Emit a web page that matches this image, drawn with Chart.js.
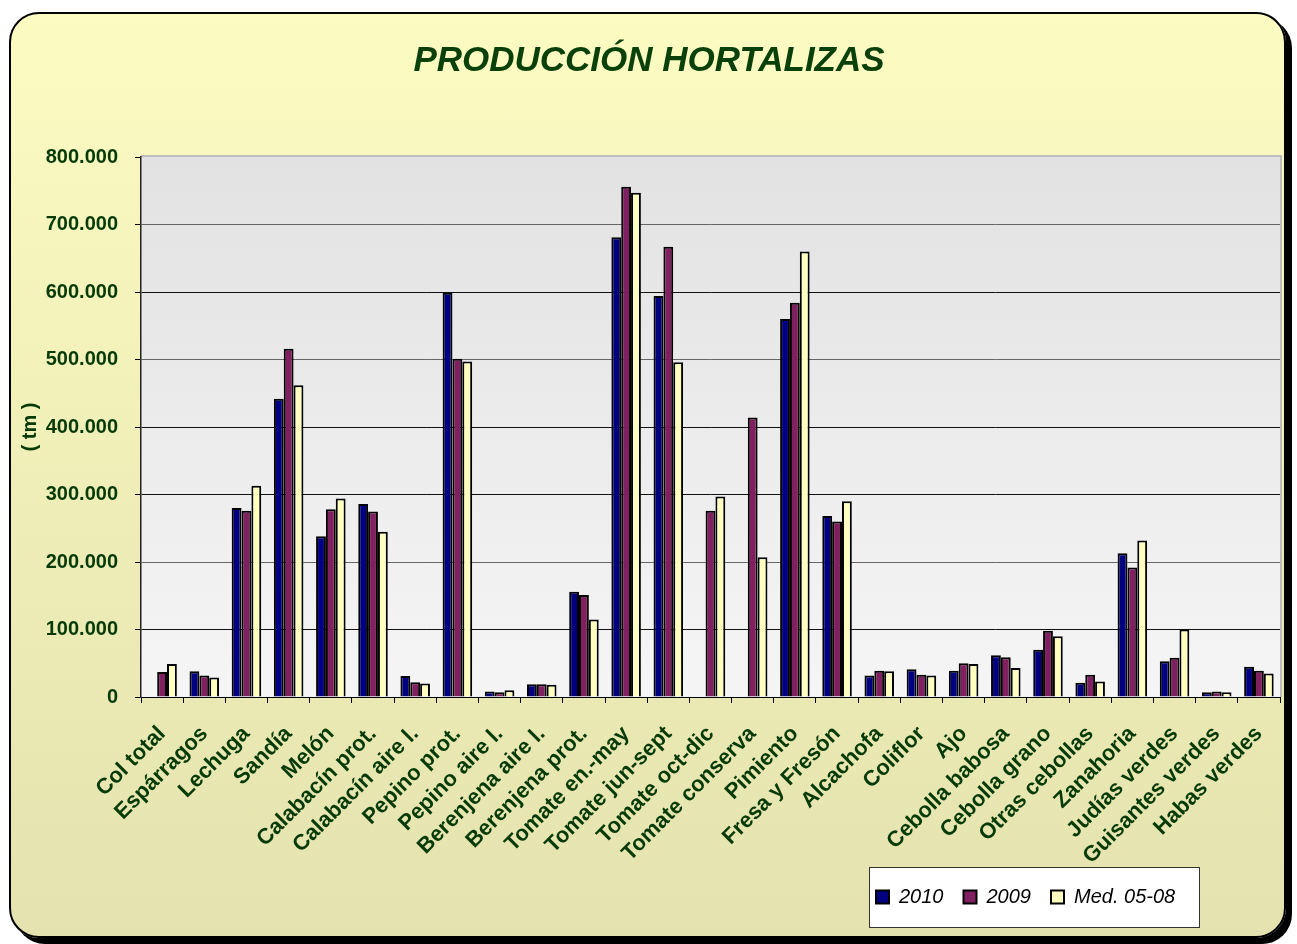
<!DOCTYPE html>
<html><head><meta charset="utf-8">
<script src="https://cdn.jsdelivr.net/npm/chart.js@4.4.1/dist/chart.umd.min.js"></script>
<style>
html,body{margin:0;padding:0;background:#fff;}
#wrap{position:relative;width:1297px;height:944px;overflow:hidden;}
#panel{position:absolute;left:9px;top:12px;width:1273px;height:922px;border:2px solid #000;border-radius:30px;box-shadow:6px 6px 0 #000;background:linear-gradient(#FBFBC2,#E4E2AE);}
#c{position:absolute;left:0;top:0;}
</style></head><body>
<div id="wrap"><div id="panel"></div><canvas id="c" width="1297" height="944"></canvas></div>
<script>
const categories = ['Col total','Espárragos','Lechuga','Sandía','Melón','Calabacín prot.','Calabacín aire l.','Pepino prot.','Pepino aire l.','Berenjena aire l.','Berenjena prot.','Tomate en.-may','Tomate jun-sept','Tomate oct-dic','Tomate conserva','Pimiento','Fresa y Fresón','Alcachofa','Coliflor','Ajo','Cebolla babosa','Cebolla grano','Otras cebollas','Zanahoria','Judías verdes','Guisantes verdes','Habas verdes'];
const values2010 = [null, 38000, 280000, 442000, 238000, 286000, 31000, 599000, 8000, 19000, 156000, 681000, 594000, null, null, 560000, 268000, 32000, 41000, 39000, 62000, 70000, 21000, 213000, 53000, 7000, 45000];
const values2009 = [37000, 32000, 276000, 516000, 278000, 275000, 22000, 501000, 7000, 19000, 151000, 756000, 667000, 276000, 414000, 584000, 260000, 39000, 33000, 50000, 59000, 98000, 33000, 192000, 58000, 8000, 39000];
const valuesMed = [49000, 29000, 313000, 462000, 294000, 245000, 20000, 497000, 10000, 18000, 115000, 747000, 496000, 297000, 207000, 660000, 290000, 38000, 32000, 49000, 43000, 90000, 23000, 232000, 100000, 7000, 35000];
const seriesNames = ['2010', '2009', 'Med. 05-08'];
const yTickValues = [0, 100000, 200000, 300000, 400000, 500000, 600000, 700000, 800000];
const chartTitle = 'PRODUCCIÓN HORTALIZAS';
const yAxisTitle = '( tm )';

const FONT = "'Liberation Sans', Arial, sans-serif";
const GREEN = '#063a06';
Chart.defaults.font.family = FONT;

function fmt(v) {
  return v === 0 ? '0' : String(v).replace(/\B(?=(\d{3})+(?!\d))/g, '.');
}

const plotBg = {
  id: 'plotBg',
  beforeDraw(chart) {
    const {ctx, chartArea: a} = chart;
    ctx.save();
    const g = ctx.createLinearGradient(0, a.top, 0, a.bottom);
    g.addColorStop(0, '#E2E2E2');
    g.addColorStop(1, '#F5F5F5');
    ctx.fillStyle = g;
    ctx.fillRect(a.left, a.top, a.right - a.left, a.bottom - a.top);
    ctx.strokeStyle = '#BDBDBD';
    ctx.lineWidth = 2;
    ctx.beginPath();
    ctx.moveTo(a.left, a.top - 1);
    ctx.lineTo(a.right + 1, a.top - 1);
    ctx.lineTo(a.right + 1, a.bottom);
    ctx.stroke();
    const lg = chart.legend;
    if (lg) {
      ctx.fillStyle = '#FFFFFF';
      ctx.strokeStyle = '#333';
      ctx.lineWidth = 1;
      ctx.fillRect(lg.left + 13, lg.top, 330, 60);
      ctx.strokeRect(lg.left + 13.5, lg.top + 0.5, 330, 60);
    }
    ctx.restore();
  },
  afterLayout(chart) {
    const lg = chart.legend;
    lg.left = 856; lg.right = 1199; lg.top = 867; lg.bottom = 927;
  }
};

const ds = [values2010, values2009, valuesMed];
const fills = ['#000080', '#802060', '#FFFFC0'];

new Chart(document.getElementById('c'), {
  type: 'bar',
  data: {
    labels: categories,
    datasets: ds.map((d, i) => ({
      label: seriesNames[i],
      data: d,
      backgroundColor: fills[i],
      borderColor: '#000',
      borderWidth: 2,
      categoryPercentage: 0.7,
      barPercentage: 1.0
    }))
  },
  options: {
    responsive: false,
    animation: false,
    layout: { padding: { left: 18, right: 17, top: 0, bottom: 17 } },
    plugins: {
      title: {
        display: true, text: chartTitle, color: '#0a400a',
        font: { family: FONT, size: 35, weight: 'bold', style: 'italic', lineHeight: 1.0 },
        padding: { top: 44, bottom: 78 }
      },
      legend: {
        position: 'bottom', align: 'start',
        labels: {
          color: '#000', boxWidth: 13, boxHeight: 13, padding: 20,
          font: { family: FONT, size: 20, style: 'italic' }
        }
      },
      tooltip: { enabled: false }
    },
    scales: {
      x: {
        ticks: { autoSkip: false, maxRotation: 45, minRotation: 45, padding: 18, color: GREEN,
          font: { family: FONT, size: 22, weight: 'bold' } },
        grid: { drawOnChartArea: false, drawTicks: true, tickLength: 6, tickColor: '#000', offset: true },
        border: { display: true, color: '#000', width: 1 },
        afterFit(s) { s.height = 180; }
      },
      y: {
        min: 0, max: 800000,
        afterBuildTicks(s) { s.ticks = yTickValues.map(v => ({ value: v })); },
        ticks: { padding: 17, color: GREEN, font: { family: FONT, size: 20, weight: 'bold' },
          callback: (v) => fmt(v) },
        grid: {
          color: (c) => {
            const v = c.tick ? c.tick.value : 0;
            if (v === 800000) return 'rgba(0,0,0,0)';
            if (v === 0) return '#000';
            return (v === 200000 || v === 500000 || v === 700000) ? '#666' : '#111';
          },
          lineWidth: 1, tickLength: 6, tickColor: '#000', drawTicks: true
        },
        border: { display: true, color: '#222', width: 1.5 },
        title: { display: true, text: yAxisTitle, color: GREEN,
          font: { family: FONT, size: 20, weight: 'bold' }, padding: { top: 0, bottom: 0 } },
        afterFit(s) { s.width = 123; }
      }
    }
  },
  plugins: [plotBg]
});
</script>
</body></html>
